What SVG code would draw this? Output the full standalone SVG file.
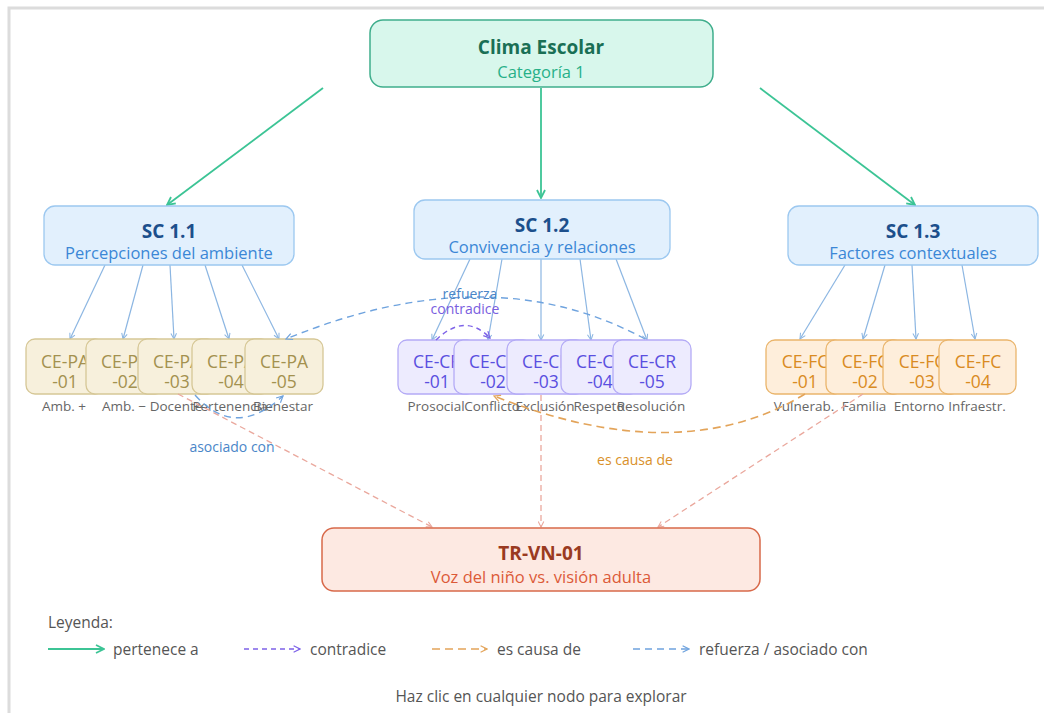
<svg xmlns="http://www.w3.org/2000/svg" width="1044" height="713" viewBox="0 0 1044 713">
<defs>
<style>
text{font-family:"Open Sans","Noto Sans","DejaVu Sans",sans-serif;text-anchor:middle}
.t{font-weight:700;font-size:19px}
.s{font-size:16.5px}
.ce{font-size:17.5px}
.lb{font-size:13.5px;fill:#666666}
.el{font-size:14px}
.root rect{fill:#d8f7ec;stroke:#3fae8c;stroke-width:1.5}
.sc rect{fill:#e2f0fd;stroke:#9cc8f0;stroke-width:1.3}
.pa rect{fill:#f7f0dc;stroke:#d6c796;stroke-width:1.3}
.pa text.ce{fill:#a3914f}
.cr rect{fill:#edebfe;stroke:#b4abf6;stroke-width:1.3}
.cr text.ce{fill:#5a4fe0}
.fc rect{fill:#feeedb;stroke:#eab56c;stroke-width:1.3}
.fc text.ce{fill:#d98b22}
.tr rect{fill:#fde9e2;stroke:#d8694a;stroke-width:1.5}
.g{stroke:#3cc495;stroke-width:1.8;fill:none}
.b{stroke:#8cb6e2;stroke-width:1.2;fill:none}
.pk{stroke:#eaa89d;stroke-width:1.3;fill:none;stroke-dasharray:6 4}
.bd{stroke:#6fa3de;stroke-width:1.4;fill:none;stroke-dasharray:7 5}
.pd{stroke:#7d62e8;stroke-width:1.4;fill:none;stroke-dasharray:5 4}
.od{stroke:#e3a45a;stroke-width:1.6;fill:none;stroke-dasharray:8 5}
.leg{font-size:15.5px;fill:#555;text-anchor:start}
</style>
<marker id="mg" viewBox="0 0 10 10" refX="9" refY="5" markerWidth="10" markerHeight="10" markerUnits="userSpaceOnUse" orient="auto"><path d="M1,1 L9,5 L1,9" fill="none" stroke="#3cc495" stroke-width="1.8"/></marker>
<marker id="mb" viewBox="0 0 10 10" refX="9" refY="5" markerWidth="7" markerHeight="7" markerUnits="userSpaceOnUse" orient="auto"><path d="M1,1 L9,5 L1,9" fill="none" stroke="#8cb6e2" stroke-width="1.5"/></marker>
<marker id="mpk" viewBox="0 0 10 10" refX="9" refY="5" markerWidth="7" markerHeight="7" markerUnits="userSpaceOnUse" orient="auto"><path d="M1,1 L9,5 L1,9" fill="none" stroke="#eaa89d" stroke-width="1.5"/></marker>
<marker id="mbd" viewBox="0 0 10 10" refX="9" refY="5" markerWidth="8" markerHeight="8" markerUnits="userSpaceOnUse" orient="auto"><path d="M1,1 L9,5 L1,9" fill="none" stroke="#6fa3de" stroke-width="1.5"/></marker>
<marker id="mpd" viewBox="0 0 10 10" refX="9" refY="5" markerWidth="8" markerHeight="8" markerUnits="userSpaceOnUse" orient="auto"><path d="M1,1 L9,5 L1,9" fill="none" stroke="#7d62e8" stroke-width="1.5"/></marker>
<marker id="mod" viewBox="0 0 10 10" refX="9" refY="5" markerWidth="8" markerHeight="8" markerUnits="userSpaceOnUse" orient="auto"><path d="M1,1 L9,5 L1,9" fill="none" stroke="#e3a45a" stroke-width="1.5"/></marker>
</defs>
<rect x="0" y="0" width="1044" height="713" fill="#ffffff"/>
<rect x="9" y="8" width="1070" height="730" fill="#ffffff" stroke="#dcdcdc" stroke-width="3"/>

<g id="connectors">
<line class="g" x1="323" y1="88" x2="167" y2="205" marker-end="url(#mg)"/>
<line class="g" x1="541" y1="88" x2="541" y2="198" marker-end="url(#mg)"/>
<line class="g" x1="760" y1="88" x2="915" y2="205" marker-end="url(#mg)"/>
<line class="b" x1="105" y1="265" x2="70" y2="339" marker-end="url(#mb)"/>
<line class="b" x1="143" y1="265" x2="123" y2="339" marker-end="url(#mb)"/>
<line class="b" x1="170" y1="265" x2="174" y2="339" marker-end="url(#mb)"/>
<line class="b" x1="205" y1="265" x2="229" y2="339" marker-end="url(#mb)"/>
<line class="b" x1="242" y1="265" x2="279" y2="339" marker-end="url(#mb)"/>
<line class="b" x1="470" y1="259" x2="432" y2="340" marker-end="url(#mb)"/>
<line class="b" x1="502" y1="259" x2="488" y2="340" marker-end="url(#mb)"/>
<line class="b" x1="541" y1="259" x2="541" y2="340" marker-end="url(#mb)"/>
<line class="b" x1="580" y1="259" x2="591" y2="340" marker-end="url(#mb)"/>
<line class="b" x1="616" y1="259" x2="647" y2="340" marker-end="url(#mb)"/>
<line class="b" x1="845" y1="265" x2="800" y2="339" marker-end="url(#mb)"/>
<line class="b" x1="885" y1="265" x2="863" y2="339" marker-end="url(#mb)"/>
<line class="b" x1="912" y1="265" x2="916" y2="339" marker-end="url(#mb)"/>
<line class="b" x1="962" y1="265" x2="975" y2="339" marker-end="url(#mb)"/>
</g>

<g id="root" class="root">
<rect x="370" y="20" width="343" height="67" rx="13"/>
<text class="t" x="541" y="54" fill="#1a6f55">Clima Escolar</text>
<text class="s" x="541" y="78" fill="#27b088">Categoría 1</text>
</g>

<g id="sc11" class="sc">
<rect x="44" y="206" width="250" height="59" rx="11"/>
<text class="t" x="169" y="238" fill="#1c4f8c">SC 1.1</text>
<text class="s" x="169" y="259" fill="#3b87d6">Percepciones del ambiente</text>
</g>
<g id="sc12" class="sc">
<rect x="414" y="200" width="256" height="59" rx="11"/>
<text class="t" x="542" y="232" fill="#1c4f8c">SC 1.2</text>
<text class="s" x="542" y="253" fill="#3b87d6">Convivencia y relaciones</text>
</g>
<g id="sc13" class="sc">
<rect x="788" y="206" width="250" height="59" rx="11"/>
<text class="t" x="913" y="238" fill="#1c4f8c">SC 1.3</text>
<text class="s" x="913" y="259" fill="#3b87d6">Factores contextuales</text>
</g>

<g id="ce-pa-01" class="pa"><rect x="26" y="339" width="78" height="55" rx="9"/><text class="ce" x="65" y="368">CE-PA</text><text class="ce" x="65" y="388">-01</text><text class="lb" x="64" y="411">Amb. +</text></g>
<g id="ce-pa-02" class="pa"><rect x="86" y="339" width="78" height="55" rx="9"/><text class="ce" x="125" y="368">CE-PA</text><text class="ce" x="125" y="388">-02</text><text class="lb" x="124" y="411">Amb. −</text></g>
<g id="ce-pa-03" class="pa"><rect x="138" y="339" width="78" height="55" rx="9"/><text class="ce" x="177" y="368">CE-PA</text><text class="ce" x="177" y="388">-03</text><text class="lb" x="176" y="411">Docente</text></g>
<g id="ce-pa-04" class="pa"><rect x="192" y="339" width="78" height="55" rx="9"/><text class="ce" x="231" y="368">CE-PA</text><text class="ce" x="231" y="388">-04</text><text class="lb" x="230" y="411">Pertenencia</text></g>
<g id="ce-pa-05" class="pa"><rect x="245" y="339" width="78" height="55" rx="9"/><text class="ce" x="284" y="368">CE-PA</text><text class="ce" x="284" y="388">-05</text><text class="lb" x="283" y="411">Bienestar</text></g>

<g id="ce-cr-01" class="cr"><rect x="398" y="340" width="78" height="54" rx="9"/><text class="ce" x="437" y="368">CE-CR</text><text class="ce" x="437" y="388">-01</text><text class="lb" x="436" y="411">Prosocial</text></g>
<g id="ce-cr-02" class="cr"><rect x="454" y="340" width="78" height="54" rx="9"/><text class="ce" x="493" y="368">CE-CR</text><text class="ce" x="493" y="388">-02</text><text class="lb" x="492" y="411">Conflicto</text></g>
<g id="ce-cr-03" class="cr"><rect x="507" y="340" width="78" height="54" rx="9"/><text class="ce" x="546" y="368">CE-CR</text><text class="ce" x="546" y="388">-03</text><text class="lb" x="545" y="411">Exclusión</text></g>
<g id="ce-cr-04" class="cr"><rect x="561" y="340" width="78" height="54" rx="9"/><text class="ce" x="600" y="368">CE-CR</text><text class="ce" x="600" y="388">-04</text><text class="lb" x="599" y="411">Respeto</text></g>
<g id="ce-cr-05" class="cr"><rect x="613" y="340" width="78" height="54" rx="9"/><text class="ce" x="652" y="368">CE-CR</text><text class="ce" x="652" y="388">-05</text><text class="lb" x="651" y="411">Resolución</text></g>

<g id="ce-fc-01" class="fc"><rect x="766" y="340" width="77" height="54" rx="9"/><text class="ce" x="805" y="368">CE-FC</text><text class="ce" x="805" y="388">-01</text><text class="lb" x="804" y="411">Vulnerab.</text></g>
<g id="ce-fc-02" class="fc"><rect x="826" y="340" width="77" height="54" rx="9"/><text class="ce" x="865" y="368">CE-FC</text><text class="ce" x="865" y="388">-02</text><text class="lb" x="864" y="411">Familia</text></g>
<g id="ce-fc-03" class="fc"><rect x="883" y="340" width="77" height="54" rx="9"/><text class="ce" x="922" y="368">CE-FC</text><text class="ce" x="922" y="388">-03</text><text class="lb" x="919" y="411">Entorno</text></g>
<g id="ce-fc-04" class="fc"><rect x="939" y="340" width="77" height="54" rx="9"/><text class="ce" x="978" y="368">CE-FC</text><text class="ce" x="978" y="388">-04</text><text class="lb" x="977" y="411">Infraestr.</text></g>

<g id="relations">
<line class="pk" x1="178" y1="394" x2="432" y2="527" marker-end="url(#mpk)"/>
<line class="pk" x1="541" y1="395" x2="541" y2="527" marker-end="url(#mpk)"/>
<line class="pk" x1="863" y1="394" x2="658" y2="527" marker-end="url(#mpk)"/>
<path class="bd" d="M645,339 Q490,255 286,339" marker-end="url(#mbd)"/>
<path class="pd" d="M436,340 Q465,312 490,338" marker-end="url(#mpd)"/>
<path class="bd" d="M195,395 Q235,440 283,396" marker-end="url(#mbd)"/>
<path class="od" d="M805,394 Q680,470 494,396" marker-end="url(#mod)"/>
<text class="el" x="470" y="299" fill="#4a86c8">refuerza</text>
<text class="el" x="465" y="314" fill="#7a5ee0">contradice</text>
<text class="el" x="232" y="452" fill="#4a86c8">asociado con</text>
<text class="el" x="635" y="465" fill="#d9902a">es causa de</text>
</g>

<g id="tr-vn-01" class="tr">
<rect x="322" y="528" width="438" height="63" rx="12"/>
<text class="t" x="541" y="560" fill="#9a3a21">TR-VN-01</text>
<text class="s" x="541" y="583" fill="#dc5a38">Voz del niño vs. visión adulta</text>
</g>

<g id="legend">
<text class="leg" x="48" y="628">Leyenda:</text>
<line class="g" x1="48" y1="649" x2="104" y2="649" marker-end="url(#mg)"/>
<text class="leg" x="113" y="655">pertenece a</text>
<line class="pd" x1="244" y1="649" x2="300" y2="649" marker-end="url(#mpd)"/>
<text class="leg" x="310" y="655">contradice</text>
<line class="od" x1="432" y1="649" x2="487" y2="649" marker-end="url(#mod)"/>
<text class="leg" x="497" y="655">es causa de</text>
<line class="bd" x1="633" y1="649" x2="689" y2="649" marker-end="url(#mbd)"/>
<text class="leg" x="699" y="655">refuerza / asociado con</text>
<text x="541" y="702" font-size="15.5" fill="#555">Haz clic en cualquier nodo para explorar</text>
</g>
</svg>
